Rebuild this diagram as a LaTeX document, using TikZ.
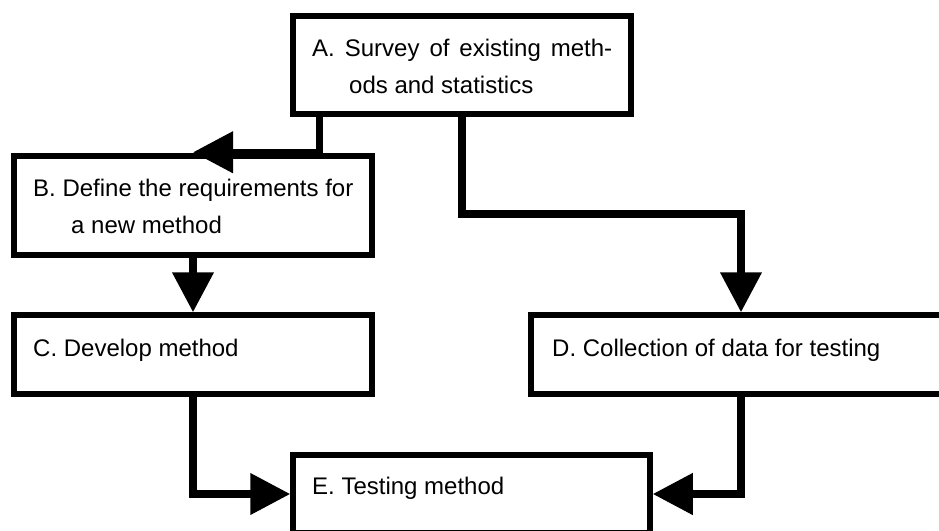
\documentclass[tikz,border=0pt]{standalone}
\usepackage{fontspec}
\setmainfont{Liberation Sans}
\usetikzlibrary{arrows.meta}

\tikzset{
  box/.style={draw, line width=5.5pt, inner sep=0pt},
  flow/.style={line width=7.5pt, -{Triangle[length=40pt,width=40pt]}},
  lbl/.style={anchor=base west, inner sep=0pt, font=\fontsize{24}{36}\selectfont},
}

\begin{document}
\begin{tikzpicture}[x=1pt,y=-1pt]
    \useasboundingbox (0,0) rectangle (939,530);
    \clip (0,0) rectangle (939,530);
    \node[box, minimum width=338pt, minimum height=98pt] (A) at (462,65) {};
    \node[box, minimum width=358pt, minimum height=99pt] (B) at (193,205.5) {};
    \node[box, minimum width=358pt, minimum height=79pt] (C) at (193,354.5) {};
    \node[box, minimum width=420pt, minimum height=79pt] (D) at (741,354.5) {};
    \node[box, minimum width=357pt, minimum height=78pt] (E) at (471.5,494) {};
    \node[lbl] (a1) at (312,56.7) {\makebox[300pt][s]{A. Survey of existing meth-}};
    \node[lbl] (a2) at (349,93) {ods and statistics};
    \node[lbl] (b1) at (33,196.7) {B. Define the requirements for};
    \node[lbl] (b2) at (71,233) {a new method};
    \node[lbl] (c1) at (33,356) {C. Develop method};
    \node[lbl] (d1) at (552,356) {D. Collection of data for testing};
    \node[lbl] (e1) at (312,494) {E. Testing method};
    \draw[flow] ([xshift=29pt]A.south west) |- ([yshift=1pt]B.north);
    \draw[flow] (A.south) -- ++(0,97) -| (D.north);
    \draw[flow] (B.south) -- (C.north);
    \draw[flow] (C.south) |- (E.west);
    \draw[flow] (D.south) |- (E.east);
  \end{tikzpicture}
\end{document}
